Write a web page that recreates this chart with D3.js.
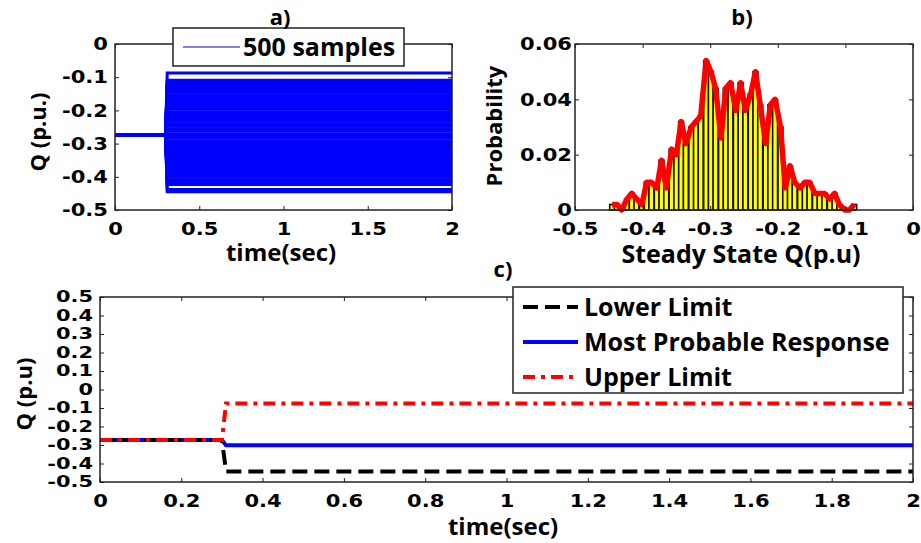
<!DOCTYPE html>
<html lang="en">
<head>
<meta charset="UTF-8">
<script src="https://d3js.org/d3.v7.min.js"></script>
<style>
  body { margin: 0; background: #fff; }
  .tick text { font-family: "DejaVu Sans", Verdana, sans-serif; font-weight: bold; font-size: 18px; fill: #000; }
  .tick line { stroke: #222; }
  .lbl { font-family: "Open Sans", sans-serif; font-weight: bold; fill: #000; }
</style>
</head>
<body>
<div id="chart"></div>
<script>
// ---- data ----
// histogram of steady state Q (500 samples, 50 bins)
var binCenters = [-0.445, -0.438, -0.431, -0.423, -0.416, -0.409, -0.401, -0.394, -0.387, -0.379,
                  -0.372, -0.365, -0.357, -0.350, -0.343, -0.336, -0.328, -0.321, -0.314, -0.306,
                  -0.299, -0.292, -0.284, -0.277, -0.270, -0.262, -0.255, -0.248, -0.240, -0.233,
                  -0.226, -0.218, -0.211, -0.204, -0.196, -0.189, -0.182, -0.175, -0.167, -0.160,
                  -0.153, -0.145, -0.138, -0.131, -0.123, -0.116, -0.109, -0.101, -0.094, -0.087];
var binProb = [0.002, 0.002, 0.000, 0.004, 0.006, 0.004, 0.002, 0.010, 0.010, 0.008,
               0.018, 0.008, 0.022, 0.020, 0.032, 0.024, 0.030, 0.032, 0.034, 0.054,
               0.050, 0.044, 0.026, 0.044, 0.046, 0.036, 0.046, 0.036, 0.042, 0.050,
               0.038, 0.024, 0.038, 0.040, 0.030, 0.008, 0.016, 0.010, 0.008, 0.010,
               0.010, 0.006, 0.006, 0.006, 0.004, 0.006, 0.002, 0.000, 0.000, 0.002];
var binWidth = 0.0073;

// time responses
var qInitial = -0.273;
var tSwitch = [0, 0.3, 0.31, 2];
var lowerLimit   = [-0.273, -0.273, -0.443, -0.443];
var mostProbable = [-0.273, -0.273, -0.302, -0.302];
var upperLimit   = [-0.273, -0.273, -0.076, -0.076];

// ticks
var aXTicks = [0, 0.5, 1, 1.5, 2];
var aYTicks = [0, -0.1, -0.2, -0.3, -0.4, -0.5];
var bXTicks = [-0.5, -0.4, -0.3, -0.2, -0.1, 0];
var bYTicks = [0, 0.02, 0.04, 0.06];
var cXTicks = [0, 0.2, 0.4, 0.6, 0.8, 1, 1.2, 1.4, 1.6, 1.8, 2];
var cYTicks = [0.5, 0.4, 0.3, 0.2, 0.1, 0, -0.1, -0.2, -0.3, -0.4, -0.5];

var W = 921, H = 543;
var svg = d3.select("#chart").append("svg")
  .attr("width", W).attr("height", H);

function fmt(d) { return String(Math.round(d * 100) / 100); }

// box with inward ticks on all four sides (matlab style)
function frame(x, y, xTicks, yTicks, yPad, ySize, yStretch) {
  var x0 = x.range()[0], x1 = x.range()[1];
  var yb = y.range()[0], yt = y.range()[1];
  var g = svg.append("g");
  var gx = g.append("g").attr("transform", "translate(0," + yb + ")")
    .call(d3.axisBottom(x).tickValues(xTicks).tickFormat(fmt).tickSize(-4).tickPadding(12));
  g.append("g").attr("transform", "translate(0," + yt + ")")
    .call(d3.axisTop(x).tickValues(xTicks).tickFormat("").tickSize(-4));
  var gy = g.append("g").attr("transform", "translate(" + x0 + ",0)")
    .call(d3.axisLeft(y).tickValues(yTicks).tickFormat(fmt).tickSize(-4).tickPadding(yPad));
  g.append("g").attr("transform", "translate(" + x1 + ",0)")
    .call(d3.axisRight(y).tickValues(yTicks).tickFormat("").tickSize(-4));
  g.selectAll(".domain").remove();
  // wider glyphs like the source figure
  gx.selectAll(".tick text").attr("transform", "scale(1.17,1)");
  gy.selectAll(".tick text")
    .style("font-size", ySize + "px")
    .attr("x", -yPad / yStretch)
    .attr("transform", "scale(" + yStretch + ",1)");
  g.append("rect")
    .attr("x", x0).attr("y", yt).attr("width", x1 - x0).attr("height", yb - yt)
    .attr("fill", "none").attr("stroke", "#222").attr("stroke-width", 1.5);
  return g;
}

function label(txt, x, y, size, rot) {
  svg.append("text").attr("class", "lbl")
    .attr("transform", "translate(" + x + "," + y + ")" + (rot ? " rotate(-90)" : ""))
    .attr("text-anchor", "middle")
    .style("font-size", size + "px")
    .text(txt);
}

// ================= a) =================
var xA = d3.scaleLinear().domain([0, 2]).range([115, 452]);
var yA = d3.scaleLinear().domain([-0.5, 0]).range([210, 44]);

var lineA = d3.line().x(function(d) { return xA(d[0]); }).y(function(d) { return yA(d[1]); });
binCenters.forEach(function(c, i) {
  if (binProb[i] <= 0) return;
  var pts = [[tSwitch[0], qInitial], [tSwitch[1], qInitial], [tSwitch[2], c], [tSwitch[3], c]];
  svg.append("path").datum(pts)
    .attr("d", lineA)
    .attr("fill", "none")
    .attr("stroke", "#0000ff")
    .attr("stroke-width", 3);
});
frame(xA, yA, aXTicks, aYTicks, 7, 18, 1.17);

// legend a
var legA = svg.append("g");
legA.append("rect").attr("x", 173).attr("y", 28).attr("width", 231).attr("height", 38)
  .attr("fill", "#fff").attr("stroke", "#222").attr("stroke-width", 1.5);
legA.append("line").attr("x1", 183).attr("x2", 240).attr("y1", 47).attr("y2", 47)
  .attr("stroke", "#0000ff").attr("stroke-width", 1);
legA.append("text").attr("class", "lbl").attr("x", 243).attr("y", 56)
  .style("font-size", "25px").text("500 samples");

label("a)", 280, 25, 22, false);
label("time(sec)", 281, 261, 24, false);
label("Q (p.u.)", 46, 132, 22, true);

// ================= b) =================
var xB = d3.scaleLinear().domain([-0.5, 0]).range([575, 913]);
var yB = d3.scaleLinear().domain([0, 0.06]).range([210, 44]);

svg.append("g").selectAll("rect")
  .data(binCenters)
  .enter().append("rect")
    .attr("x", function(d) { return xB(d - binWidth / 2); })
    .attr("y", function(d, i) { return yB(binProb[i]); })
    .attr("width", xB(binWidth) - xB(0))
    .attr("height", function(d, i) { return yB(0) - yB(binProb[i]); })
    .attr("fill", "#ffff00")
    .attr("stroke", "#111")
    .attr("stroke-width", 1.6);

svg.append("path")
  .datum(binCenters.map(function(c, i) { return [c, binProb[i]]; }))
  .attr("d", d3.line().x(function(d) { return xB(d[0]); }).y(function(d) { return yB(d[1]); }))
  .attr("fill", "none")
  .attr("stroke", "#ff0000")
  .attr("stroke-width", 5.5)
  .attr("stroke-linejoin", "round");

frame(xB, yB, bXTicks, bYTicks, 3, 18, 1.17);
label("b)", 742, 25, 22, false);
label("Steady State Q(p.u)", 741, 263, 25, false);
label("Probability", 502, 126, 22, true);

// ================= c) =================
var xC = d3.scaleLinear().domain([0, 2]).range([100, 913]);
var yC = d3.scaleLinear().domain([-0.5, 0.5]).range([482, 297]);
var lineC = d3.line().x(function(d) { return xC(d[0]); }).y(function(d) { return yC(d[1]); });

var seriesC = [
  { name: "Lower Limit", vals: lowerLimit, color: "#000000", dash: "15,7" },
  { name: "Most Probable Response", vals: mostProbable, color: "#0000ff", dash: null },
  { name: "Upper Limit", vals: upperLimit, color: "#ff0000", dash: "12,6,4,6" }
];

// red drawn last so it sits on top at the start like the source
[seriesC[1], seriesC[0], seriesC[2]].forEach(function(s) {
  svg.append("path")
    .datum(tSwitch.map(function(t, i) { return [t, s.vals[i]]; }))
    .attr("d", lineC)
    .attr("fill", "none")
    .attr("stroke", s.color)
    .attr("stroke-width", 4)
    .attr("stroke-dasharray", s.dash);
});

frame(xC, yC, cXTicks, cYTicks, 7, 15.5, 1.35);

// legend c
var legC = svg.append("g");
legC.append("rect").attr("x", 513).attr("y", 287).attr("width", 390).attr("height", 106)
  .attr("fill", "#fff").attr("stroke", "#222").attr("stroke-width", 1.5);
seriesC.forEach(function(s, i) {
  var yy = 307 + i * 35;
  legC.append("line").attr("x1", 523).attr("x2", 578).attr("y1", yy).attr("y2", yy)
    .attr("stroke", s.color).attr("stroke-width", 4).attr("stroke-dasharray", s.dash);
  legC.append("text").attr("class", "lbl").attr("x", 584).attr("y", yy + 9)
    .style("font-size", "25px").text(s.name);
});

label("c)", 503, 277, 22, false);
label("time(sec)", 503, 535, 24, false);
label("Q (p.u)", 32, 394, 22, true);
</script>
</body>
</html>
